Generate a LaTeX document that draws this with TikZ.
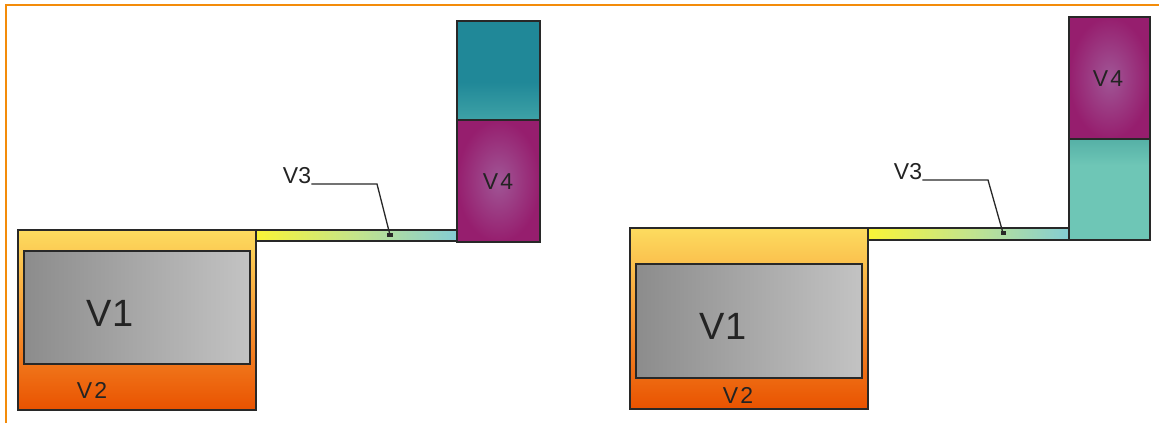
\documentclass[tikz,border=0pt]{standalone}
\usepackage{fontspec}
\setmainfont{Liberation Sans}
\usetikzlibrary{calc}
\definecolor{frameorange}{RGB}{243,140,10}
\definecolor{outl}{RGB}{40,40,40}
\definecolor{txt}{RGB}{35,35,35}
\definecolor{vtop}{RGB}{253,220,95}
\definecolor{vmid}{RGB}{246,150,50}
\definecolor{vbot}{RGB}{233,82,0}
\definecolor{gleft}{RGB}{140,140,140}
\definecolor{gright}{RGB}{195,195,195}
\definecolor{pleft}{RGB}{250,245,55}
\definecolor{pmid}{RGB}{195,228,140}
\definecolor{pright}{RGB}{132,205,212}
\definecolor{tdtop}{RGB}{32,136,152}
\definecolor{tdbot}{RGB}{62,162,166}
\definecolor{tltop}{RGB}{85,176,166}
\definecolor{tlbot}{RGB}{110,198,182}
\definecolor{minner}{RGB}{160,86,150}
\definecolor{mouter}{RGB}{150,30,110}
\tikzset{
  box/.style={draw=outl,line width=1.6pt},
  tank/.style={box,top color=vtop,bottom color=vbot,middle color=vmid},
  core/.style={box,left color=gleft,right color=gright},
  pipe/.style={box,left color=pleft,right color=pright,middle color=pmid},
  magbox/.style={box,inner color=minner,outer color=mouter},
  big/.style={text=txt,font=\fontsize{38}{38}\selectfont,inner sep=0pt},
  mid/.style={text=txt,font=\fontsize{23}{23}\selectfont,inner sep=0pt},
  leader/.style={draw=outl,line width=1.3pt},
}
\begin{document}
\begin{tikzpicture}[x=1pt,y=-1pt]
\useasboundingbox (0,0) rectangle (1159,423);
\fill[white] (0,0) rectangle (1159,423);
% frame
\draw[frameorange,line width=2.4pt] (6,423) -- (6,5) -- (1159,5);

% ---------- left group ----------
\shade[tank] (18,230) rectangle (256,410);
\shade[core] (24,251) rectangle (250,364);
\node[big] (v1a) at (110,313) {V1};
\node[mid] (v2a) at (92,390) {V\kern2pt 2};
\shade[pipe] (256,230) rectangle (457,241);
\fill[tdtop] (457,21) rectangle (540,82);
\shade[top color=tdtop,bottom color=tdbot] (457,82) rectangle (540,120);
\draw[box] (457,21) rectangle (540,120);
\shade[magbox] (457,120) rectangle (540,242);
\node[mid] (v4a) at (498,182) {V\kern2pt 4};
\node[mid] (v3a) at (297,176) {V3};
\coordinate (la1) at (377,184);
\coordinate (la2) at (390,235);
\draw[leader] (v3a.east |- la1) -- (la1) -- (la2);
\fill[outl] ($(la2)+(-3,-2)$) rectangle ($(la2)+(3,2)$);

% ---------- right group ----------
\shade[tank] (630,228) rectangle (868,409);
\shade[core] (636,264) rectangle (862,378);
\node[big] (v1b) at (723,326) {V1};
\node[mid] (v2b) at (738,395) {V\kern2pt 2};
\shade[pipe] (868,228) rectangle (1069,240);
\shade[magbox] (1069,17) rectangle (1150,139);
\shade[top color=tltop,bottom color=tlbot] (1069,139) rectangle (1150,165);
\fill[tlbot] (1069,165) rectangle (1150,240);
\draw[box] (1069,139) rectangle (1150,240);
\node[mid] (v4b) at (1108,79) {V\kern2pt 4};
\node[mid] (v3b) at (908,172) {V3};
\coordinate (lb1) at (988,180);
\coordinate (lb2) at (1003,233);
\draw[leader] (v3b.east |- lb1) -- (lb1) -- (lb2);
\fill[outl] ($(lb2)+(-2.5,-2)$) rectangle ($(lb2)+(2.5,2)$);
\end{tikzpicture}
\end{document}
